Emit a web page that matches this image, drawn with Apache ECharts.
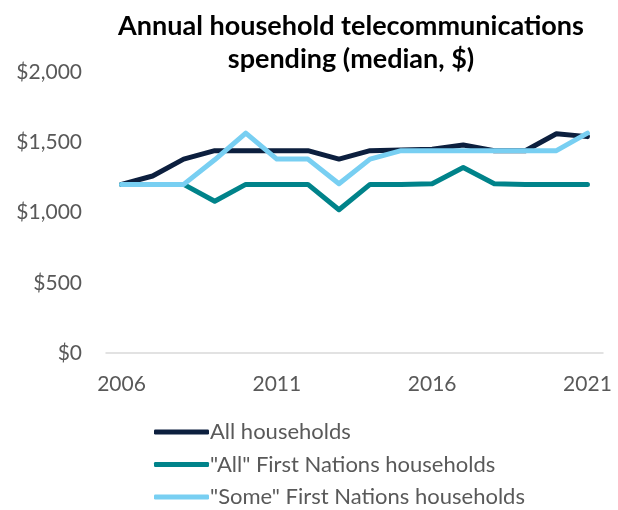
<!DOCTYPE html>
<html>
<head>
<meta charset="utf-8">
<script src="https://cdn.jsdelivr.net/npm/echarts@6/dist/echarts.min.js"></script>
<style>
  html, body { margin: 0; padding: 0; background: #fff; }
  #chart { width: 618px; height: 510px; }
</style>
</head>
<body>
<div id="chart"></div>
<script>
// Median annual household telecommunications spending, 2006–2021
const years = ['2006','2007','2008','2009','2010','2011','2012','2013','2014','2015','2016','2017','2018','2019','2020','2021'];
const allHouseholds = [1200, 1260, 1380, 1440, 1440, 1440, 1440, 1380, 1440, 1445, 1450, 1480, 1440, 1440, 1560, 1540];
const allFirstNations = [1200, 1200, 1200, 1080, 1200, 1200, 1200, 1020, 1200, 1200, 1205, 1320, 1205, 1200, 1200, 1200];
const someFirstNations = [1200, 1200, 1200, 1375, 1565, 1380, 1380, 1205, 1380, 1440, 1440, 1440, 1440, 1440, 1440, 1565];
const yTicks = [0, 500, 1000, 1500, 2000];

const FONT = 'Lato';
const GREY = '#595959';

const chart = echarts.init(document.getElementById('chart'));

function fmtDollar(v) {
  return '$' + v.toLocaleString('en-US');
}

function lineSeries(name, data, color) {
  return {
    name: name,
    type: 'line',
    data: data,
    symbol: 'none',
    lineStyle: { width: 5, color: color, cap: 'round', join: 'round' },
    itemStyle: { color: color },
    emphasis: { disabled: true }
  };
}

chart.setOption({
  animation: false,
  title: {
    text: 'Annual household telecommunications\nspending (median, $)',
    left: 351,
    textAlign: 'center',
    top: 10,
    padding: 0,
    textStyle: {
      fontFamily: FONT,
      fontWeight: 'bold',
      fontSize: 27,
      lineHeight: 33,
      color: '#000'
    }
  },
  grid: { left: 106, right: 15, top: 72, bottom: 157, containLabel: false },
  xAxis: {
    type: 'category',
    data: years,
    boundaryGap: true,
    axisLine: { show: true, lineStyle: { color: '#d9d9d9', width: 1.5 } },
    axisTick: { show: false },
    axisLabel: {
      interval: 4,
      margin: 21,
      fontFamily: FONT,
      fontSize: 21,
      color: GREY
    },
    splitLine: { show: false }
  },
  yAxis: {
    type: 'value',
    min: yTicks[0],
    max: yTicks[yTicks.length - 1],
    interval: yTicks[1] - yTicks[0],
    axisLine: { show: false },
    axisTick: { show: false },
    splitLine: { show: false },
    axisLabel: {
      margin: 24,
      fontFamily: FONT,
      fontSize: 21,
      color: GREY,
      formatter: fmtDollar
    }
  },
  legend: {
    orient: 'vertical',
    left: 154,
    top: 421,
    bottom: 0,
    padding: 0,
    itemWidth: 55,
    itemHeight: 5,
    itemGap: 10.5,
    icon: 'roundRect',
    textStyle: { fontFamily: FONT, fontSize: 22, lineHeight: 22, color: GREY, padding: [0, 0, 0, -4] },
    data: ['All households', '"All" First Nations households', '"Some" First Nations households']
  },
  series: [
    lineSeries('All households', allHouseholds, '#0c1f3e'),
    lineSeries('"All" First Nations households', allFirstNations, '#00838a'),
    lineSeries('"Some" First Nations households', someFirstNations, '#78cff2')
  ]
});
</script>
</body>
</html>
